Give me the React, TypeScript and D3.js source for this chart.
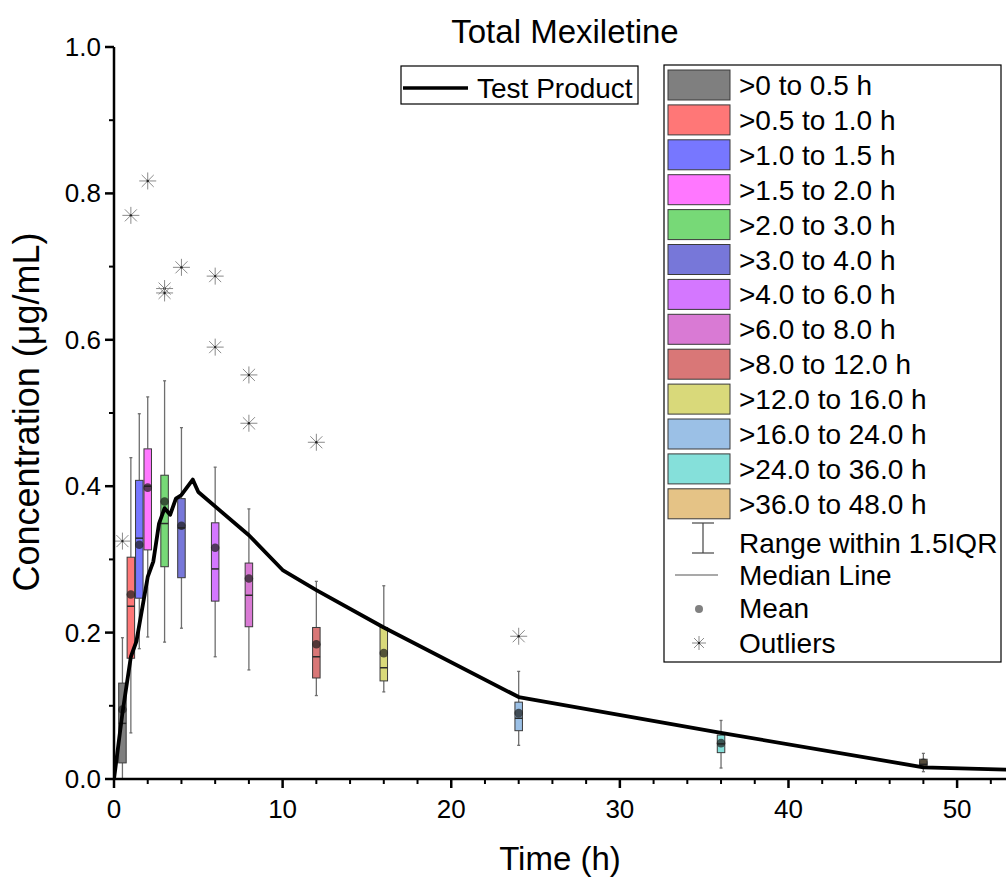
import React from "react";
import * as d3 from "d3";

const boxTimes = [0.5, 1, 1.5, 2, 3, 4, 6, 8, 12, 16, 24, 36, 48];
const boxLabels = [
  ">0 to 0.5 h", ">0.5 to 1.0 h", ">1.0 to 1.5 h", ">1.5 to 2.0 h", ">2.0 to 3.0 h",
  ">3.0 to 4.0 h", ">4.0 to 6.0 h", ">6.0 to 8.0 h", ">8.0 to 12.0 h", ">12.0 to 16.0 h",
  ">16.0 to 24.0 h", ">24.0 to 36.0 h", ">36.0 to 48.0 h",
];
const boxColors = [
  "#7f7f7f", "#ff7777", "#7777ff", "#ff77ff", "#77d977", "#7777d9", "#d477ff",
  "#d97ad4", "#d97777", "#d9d97a", "#9bc0e6", "#85e0da", "#e5c386",
];
const whiskerLow = [0.0, 0.063, 0.178, 0.194, 0.187, 0.206, 0.167, 0.149, 0.114, 0.119, 0.046, 0.015, 0.010];
const q1 = [0.022, 0.165, 0.247, 0.313, 0.290, 0.275, 0.243, 0.208, 0.138, 0.134, 0.066, 0.036, 0.016];
const median = [0.076, 0.236, 0.329, 0.400, 0.349, 0.343, 0.287, 0.251, 0.167, 0.152, 0.083, 0.048, 0.020];
const q3 = [0.131, 0.303, 0.408, 0.451, 0.415, 0.383, 0.350, 0.295, 0.207, 0.207, 0.105, 0.060, 0.027];
const whiskerHigh = [0.193, 0.439, 0.499, 0.522, 0.544, 0.480, 0.426, 0.369, 0.270, 0.264, 0.147, 0.080, 0.035];
const means = [0.095, 0.252, 0.320, 0.398, 0.379, 0.346, 0.316, 0.274, 0.184, 0.172, 0.090, 0.049, 0.022];

const outlierTimes = [0.5, 1, 2, 3, 3, 4, 6, 6, 8, 8, 12, 24];
const outlierValues = [0.325, 0.770, 0.817, 0.670, 0.664, 0.699, 0.687, 0.590, 0.552, 0.486, 0.460, 0.195];

const lineTimes = [0, 0.5, 1, 1.33, 2, 2.33, 2.67, 3, 3.33, 3.67, 4, 4.67, 5, 8, 10, 12, 16, 24, 36, 48, 72];
const lineValues = [0, 0.09, 0.167, 0.188, 0.276, 0.297, 0.349, 0.370, 0.361, 0.383, 0.388, 0.409, 0.392, 0.333, 0.2855, 0.258, 0.207, 0.112, 0.063, 0.016, 0.0];

const xTicks = [0, 10, 20, 30, 40, 50];
const yTicks = [0, 0.2, 0.4, 0.6, 0.8, 1.0];

const FONT = "'Liberation Sans', Arial, Helvetica, sans-serif";

function Asterisk({ cx, cy, r, color }: { cx: number; cy: number; r: number; color: string }) {
  const d = r * Math.SQRT1_2;
  return (
    <g stroke={color} strokeWidth={1}>
      <line x1={cx - r} y1={cy} x2={cx + r} y2={cy} />
      <line x1={cx} y1={cy - r} x2={cx} y2={cy + r} />
      <line x1={cx - d} y1={cy - d} x2={cx + d} y2={cy + d} />
      <line x1={cx - d} y1={cy + d} x2={cx + d} y2={cy - d} />
      <circle cx={cx} cy={cy} r={1.2} fill="#222" stroke="none" />
    </g>
  );
}

export default function App() {
  const W = 1006, H = 882;
  const x = d3.scaleLinear().domain([0, 52.9]).range([114, 1006]);
  const y = d3.scaleLinear().domain([0, 1]).range([779, 47]);
  const bw = 7.5;

  const line = d3
    .line<number>()
    .x((_, i) => x(lineTimes[i]))
    .y((v) => y(v));

  const xMinor = d3.range(0, 53, 2).filter((t) => t % 10 !== 0);
  const yMinor = d3.range(0.1, 1.0, 0.2);

  const legRowY = (i: number) => 85 + 34.9 * i;

  return (
    <svg
      width={W}
      height={H}
      style={{ position: "absolute", left: 0, top: 0, background: "#fff" }}
      fontFamily={FONT}
    >
      <rect x={0} y={0} width={W} height={H} fill="#fff" />
      <defs>
        <clipPath id="plotclip">
          <rect x={114} y={40} width={892} height={740} />
        </clipPath>
      </defs>

      {/* title */}
      <text x={565} y={43} fontSize={33} textAnchor="middle" fill="#000">
        Total Mexiletine
      </text>

      {/* boxes */}
      {boxTimes.map((t, i) => {
        const cx = x(t);
        return (
          <g key={"b" + i}>
            <line x1={cx} x2={cx} y1={y(whiskerHigh[i])} y2={y(q3[i])} stroke="#6e6e6e" strokeWidth={1.3} />
            <line x1={cx} x2={cx} y1={y(q1[i])} y2={y(whiskerLow[i])} stroke="#6e6e6e" strokeWidth={1.3} />
            <line x1={cx - 1.5} x2={cx + 1.5} y1={y(whiskerHigh[i])} y2={y(whiskerHigh[i])} stroke="#6e6e6e" strokeWidth={1.3} />
            <line x1={cx - 1.5} x2={cx + 1.5} y1={y(whiskerLow[i])} y2={y(whiskerLow[i])} stroke="#6e6e6e" strokeWidth={1.3} />
            <rect
              x={cx - bw / 2}
              y={y(q3[i])}
              width={bw}
              height={y(q1[i]) - y(q3[i])}
              fill={boxColors[i]}
              stroke="#3a3a3a"
              strokeWidth={1}
            />
            <line x1={cx - bw / 2} x2={cx + bw / 2} y1={y(median[i])} y2={y(median[i])} stroke="#2a2a2a" strokeWidth={1.5} />
            <circle cx={cx} cy={y(means[i])} r={4.3} fill="#1e1e1e" fillOpacity={0.72} />
          </g>
        );
      })}

      {/* outliers */}
      {outlierTimes.map((t, i) => (
        <Asterisk key={"o" + i} cx={x(t)} cy={y(outlierValues[i])} r={8.5} color="#8a8a8a" />
      ))}

      {/* test product line */}
      <path
        d={line(lineValues) || ""}
        fill="none"
        stroke="#000"
        strokeWidth={3.8}
        strokeLinejoin="round"
        clipPath="url(#plotclip)"
      />

      {/* axes */}
      <line x1={114} x2={114} y1={47} y2={780} stroke="#000" strokeWidth={2.5} />
      <line x1={113} x2={1006} y1={779} y2={779} stroke="#000" strokeWidth={2.5} />
      {yTicks.map((v) => (
        <g key={"yt" + v}>
          <line x1={105} x2={114} y1={y(v)} y2={y(v)} stroke="#000" strokeWidth={2.5} />
          <text x={101} y={y(v) + 9} fontSize={26} textAnchor="end" fill="#000">
            {v.toFixed(1)}
          </text>
        </g>
      ))}
      {yMinor.map((v) => (
        <line key={"ym" + v} x1={109} x2={114} y1={y(v)} y2={y(v)} stroke="#000" strokeWidth={2} />
      ))}
      {xTicks.map((t) => (
        <g key={"xt" + t}>
          <line x1={x(t)} x2={x(t)} y1={779} y2={788} stroke="#000" strokeWidth={2.5} />
          <text x={x(t)} y={818} fontSize={26} textAnchor="middle" fill="#000">
            {t}
          </text>
        </g>
      ))}
      {xMinor.map((t) => (
        <line key={"xm" + t} x1={x(t)} x2={x(t)} y1={779} y2={784} stroke="#000" strokeWidth={2} />
      ))}

      {/* axis titles */}
      <text x={560} y={870} fontSize={33} textAnchor="middle" fill="#000">
        Time (h)
      </text>
      <text
        transform="translate(39,412) rotate(-90)"
        fontSize={36}
        textAnchor="middle"
        fill="#000"
      >
        Concentration (μg/mL)
      </text>

      {/* legend 1 */}
      <rect x={401} y={66} width={237} height={38} fill="#fff" stroke="#000" strokeWidth={1.2} />
      <line x1={403} x2={468} y1={88} y2={88} stroke="#000" strokeWidth={3.5} />
      <text x={477} y={98} fontSize={28} fill="#000">
        Test Product
      </text>

      {/* legend 2 */}
      <rect x={664} y={65} width={337} height={597} fill="#fff" stroke="#000" strokeWidth={1.2} />
      {boxLabels.map((lab, i) => (
        <g key={"l" + i}>
          <rect x={668} y={legRowY(i) - 15} width={62} height={30} fill={boxColors[i]} stroke="#3a3a3a" strokeWidth={1} />
          <text x={739} y={legRowY(i) + 10} fontSize={28} fill="#000">
            {lab}
          </text>
        </g>
      ))}
      <g stroke="#444" strokeWidth={1.2}>
        <line x1={703} x2={703} y1={523} y2={553} />
        <line x1={692} x2={714} y1={523} y2={523} />
        <line x1={692} x2={714} y1={553} y2={553} />
      </g>
      <text x={739} y={553} fontSize={28} fill="#000">Range within 1.5IQR</text>
      <line x1={675} x2={718} y1={575} y2={575} stroke="#555" strokeWidth={1.2} />
      <text x={739} y={585} fontSize={28} fill="#000">Median Line</text>
      <circle cx={699} cy={609} r={4} fill="#808080" />
      <text x={739} y={618} fontSize={28} fill="#000">Mean</text>
      <Asterisk cx={699} cy={643} r={7} color="#8a8a8a" />
      <text x={739} y={653} fontSize={28} fill="#000">Outliers</text>
    </svg>
  );
}
